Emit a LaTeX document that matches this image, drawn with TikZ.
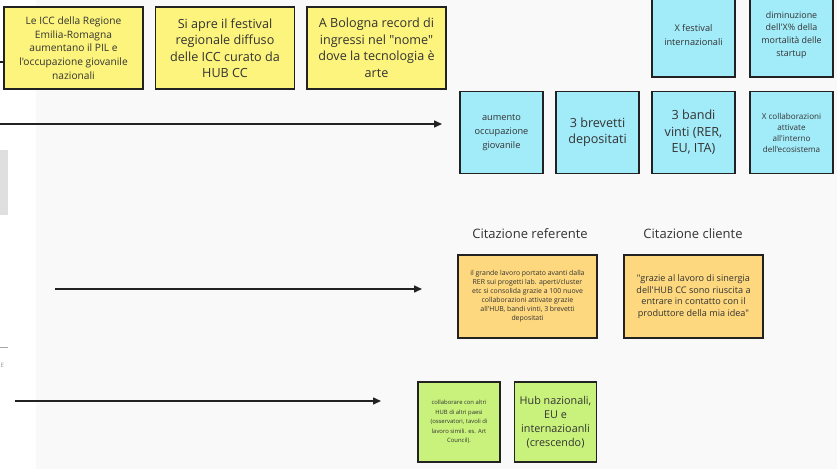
\documentclass[tikz,border=0pt]{standalone}
\usepackage{fontspec}
\setmainfont{Open Sans}[Ligatures=TeXOff]
\usetikzlibrary{arrows.meta,shadows}
\definecolor{bg}{HTML}{F9F9F9}
\definecolor{ylw}{HTML}{FCF47C}
\definecolor{blu}{HTML}{A2EBF8}
\definecolor{org}{HTML}{FDD87E}
\definecolor{grn}{HTML}{C8F27C}
\definecolor{edge}{HTML}{222222}
\definecolor{txt}{HTML}{333333}
\tikzset{
  card/.style={draw=edge, line width=1.8pt, align=center, text=txt, inner sep=1pt,
    drop shadow={shadow xshift=0.8pt, shadow yshift=-0.8pt, opacity=0.25}},
  ycard/.style={card, fill=ylw, minimum width=139pt, minimum height=82pt},
  bcard/.style={card, fill=blu, minimum width=83pt, minimum height=82pt},
  ocard/.style={card, fill=org, minimum width=139pt, minimum height=83pt},
  gcard/.style={card, fill=grn, minimum width=82pt, minimum height=80pt},
  flow/.style={draw=edge, line width=1.5pt, -{Triangle[length=8pt,width=7pt]}},
  heading/.style={text=txt, font=\fontsize{13}{14}\selectfont},
}
\begin{document}
\begin{tikzpicture}[x=1pt,y=-1pt]
\useasboundingbox (0,0) rectangle (837,469);
\fill[white] (0,0) rectangle (36,469);
\fill[bg] (36,0) rectangle (837,469);
\fill[gray!25] (0,150) rectangle (8,215);
\draw[gray!70, line width=0.8pt] (0,347) -- (8,347);
\node[text=gray!80, font=\fontsize{6}{7}\selectfont, anchor=west, inner sep=0pt] (frag) at (0.5,365) {E};

% yellow row
\node[ycard, font=\fontsize{10.2}{13.6}\selectfont] (y1) at (73.5,48) {Le ICC della Regione\\Emilia-Romagna\\aumentano il PIL e\\l'occupazione giovanile\\nazionali};
\node[ycard, font=\fontsize{12.6}{16.5}\selectfont] (y2) at (225,48) {Si apre il festival\\regionale diffuso\\delle ICC curato da\\HUB CC};
\node[ycard, font=\fontsize{12.6}{16.5}\selectfont] (y3) at (376.5,48) {A Bologna record di\\ingressi nel "nome"\\dove la tecnologia è\\arte};
\coordinate (c0) at (0,62);
\draw[draw=edge, line width=1.2pt] (c0) -- (c0 -| y1.west);

% blue cards
\node[bcard, minimum height=84pt, font=\fontsize{9.2}{13.3}\selectfont] (bfest) at (693.5,35) {X festival\\internazionali};
\node[bcard, minimum height=84pt, font=\fontsize{8.9}{12.7}\selectfont] (bdim) at (791.5,35) {diminuzione\\dell'X\% della\\mortalità delle\\startup};
\node[bcard, font=\fontsize{9.2}{14}\selectfont] (baum) at (501.5,132.5) {aumento\\occupazione\\giovanile};
\node[bcard, font=\fontsize{12.6}{16}\selectfont] (bbrev) at (597.5,132.5) {3 brevetti\\depositati};
\node[bcard, font=\fontsize{12.6}{16.7}\selectfont] (bbandi) at (693.5,132.5) {3 bandi\\vinti (RER,\\EU, ITA)};
\node[bcard, font=\fontsize{8.1}{11}\selectfont] (bcoll) at (791.5,132.5) {X collaborazioni\\attivate\\all'interno\\dell'ecosistema};

\coordinate (a1s) at (0,124);
\coordinate (a1e) at (442,124);
\draw[flow] (a1s) -- (a1e);

% quotes
\node[heading] (hr) at (530,234) {Citazione referente};
\node[heading] (hc) at (693,234) {Citazione cliente};
\node[ocard, font=\fontsize{6.9}{9}\selectfont] (o1) at (527.5,296.5) {il grande lavoro portato avanti dalla\\RER sui progetti lab. aperti/cluster\\etc si consolida grazie a 100 nuove\\collaborazioni attivate grazie\\all'HUB, bandi vinti, 3 brevetti\\depositati};
\node[ocard, font=\fontsize{9.1}{11.6}\selectfont] (o2) at (693.5,296.5) {"grazie al lavoro di sinergia\\dell'HUB CC sono riuscita a\\entrare in contatto con il\\produttore della mia idea"};
\coordinate (a2s) at (55,289);
\coordinate (a2e) at (422,289);
\draw[flow] (a2s) -- (a2e);

% green
\node[gcard, font=\fontsize{5.9}{9.5}\selectfont] (g1) at (459,422) {collaborare con altri\\HUB di altri paesi\\(osservatori, tavoli di\\lavoro simili. es. Art\\Council).};
\node[gcard, font=\fontsize{10.8}{14}\selectfont] (g2) at (555.5,422) {Hub nazionali,\\EU e\\internazioanli\\(crescendo)};
\coordinate (a3s) at (15,401);
\coordinate (a3e) at (381,401);
\draw[flow] (a3s) -- (a3e);
\end{tikzpicture}
\end{document}
